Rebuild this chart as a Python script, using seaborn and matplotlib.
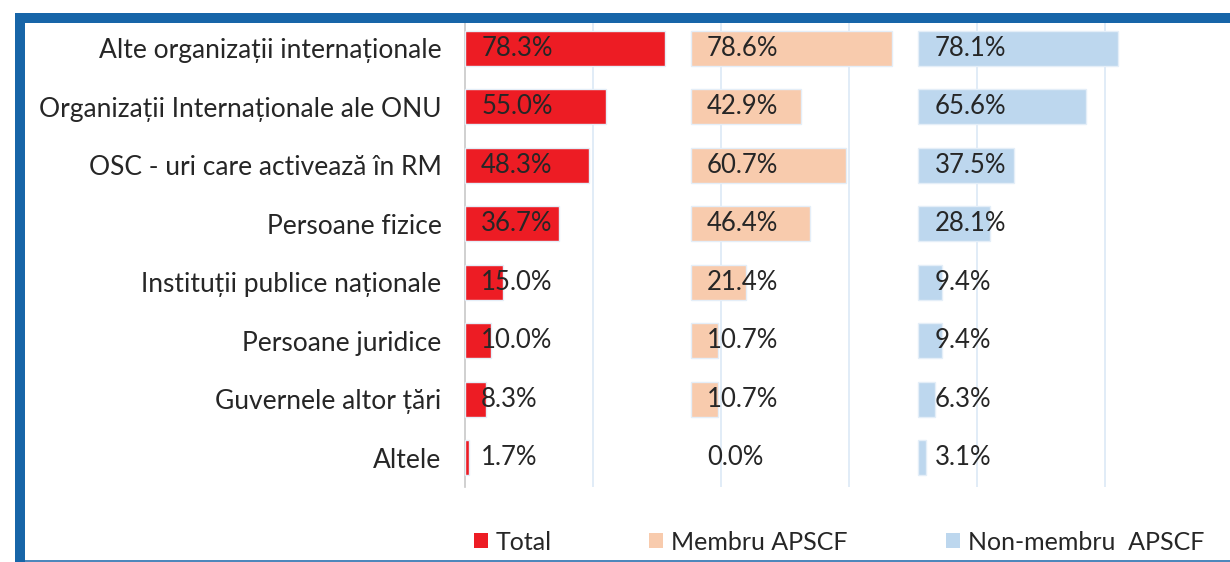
import matplotlib
matplotlib.use("Agg")
import matplotlib.pyplot as plt
from matplotlib.patches import Rectangle
from matplotlib.lines import Line2D
import pandas as pd
import seaborn as sns

# Funding sources by category, percent of respondents
categories = [
    "Alte organizații internaționale",
    "Organizații Internaționale ale ONU",
    "OSC - uri care activează în RM",
    "Persoane fizice",
    "Instituții publice naționale",
    "Persoane juridice",
    "Guvernele altor țări",
    "Altele",
]
total = [78.3, 55.0, 48.3, 36.7, 15.0, 10.0, 8.3, 1.7]
membru = [78.6, 42.9, 60.7, 46.4, 21.4, 10.7, 10.7, 0.0]
non_membru = [78.1, 65.6, 37.5, 28.1, 9.4, 9.4, 6.3, 3.1]
series_names = ["Total", "Membru APSCF", "Non-membru  APSCF"]

# styling
series_colors = ["#ED1C24", "#F8CBAD", "#BDD7EE"]
panel_offsets = [0.0, 88.2, 177.1]
grid_ticks = [50, 100, 150, 200, 250]
legend_x = [474, 649, 946]
TEXT = "#262626"
FRAME = "#1765A8"
FS_CAT = 19
FS_VAL = 18.5
FS_LEG = 18

sns.set_theme(style="white")
plt.rcParams["font.family"] = ["Lato", "DejaVu Sans"]

W, H = 1230, 562
fig = plt.figure(figsize=(W / 100, H / 100), dpi=100)
fig.patch.set_facecolor("white")
ax = fig.add_axes([465 / W, 1 - 487 / H, (1225 - 465) / W, (487 - 19) / H])

for vals, name, color, off in zip([total, membru, non_membru], series_names,
                                  series_colors, panel_offsets):
    df = pd.DataFrame({"category": categories, "value": vals})
    sns.barplot(data=df, x="value", y="category", order=categories,
                color=color, saturation=1, width=0.6, errorbar=None,
                left=off, edgecolor="#E4EEF8", linewidth=1.0,
                clip_on=False, ax=ax, zorder=3)
    for i, v in enumerate(vals):
        ax.text(off + 6.3, i, f"{v:.1f}%", ha="left", va="center",
                fontsize=FS_VAL, color=TEXT, zorder=5, clip_on=False)

# empty bars get no outline
for p in ax.patches:
    if p.get_width() == 0:
        p.set_linewidth(0)

ax.set_xlim(0, (1225 - 465) / 2.56)
ax.set_ylim(7.5, -0.5)
ax.set_xticks(grid_ticks)
ax.set_xticklabels([])
ax.xaxis.grid(True, color="#DCE9F6", linewidth=1.2)
ax.set_axisbelow(True)
ax.set_xlabel("")
ax.set_ylabel("")
for s in ["top", "right", "bottom"]:
    ax.spines[s].set_visible(False)
ax.spines["left"].set_color("#C8C8C8")
ax.spines["left"].set_linewidth(1.2)
ax.tick_params(axis="x", length=0)
ax.tick_params(axis="y", length=0, pad=17, labelsize=FS_CAT, labelcolor=TEXT)
ax.patch.set_alpha(0)

# legend entries along the bottom
for name, color, lx in zip(series_names, series_colors, legend_x):
    handle = Rectangle((0, 0), 1, 1, facecolor=color, edgecolor="none")
    fig.legend([handle], [name], loc="center left",
               bbox_to_anchor=(lx / W, 1 - 542 / H), frameon=False,
               fontsize=FS_LEG, handlelength=0.56, handleheight=0.56,
               handletextpad=0.32, borderpad=0, borderaxespad=0,
               labelcolor=TEXT)

# blue frame
fig.add_artist(Rectangle((15 / W, 0), 10 / W, (H - 13) / H,
                         transform=fig.transFigure, facecolor=FRAME,
                         edgecolor="none", zorder=10))
fig.add_artist(Rectangle((15 / W, 1 - 23 / H), (W - 15) / W, 10 / H,
                         transform=fig.transFigure, facecolor=FRAME,
                         edgecolor="none", zorder=10))
fig.add_artist(Line2D([25 / W, 1], [1 - 560.5 / H] * 2,
                      transform=fig.transFigure, color=FRAME,
                      linewidth=1.1, zorder=10))

fig.savefig("out.png", dpi=100)
